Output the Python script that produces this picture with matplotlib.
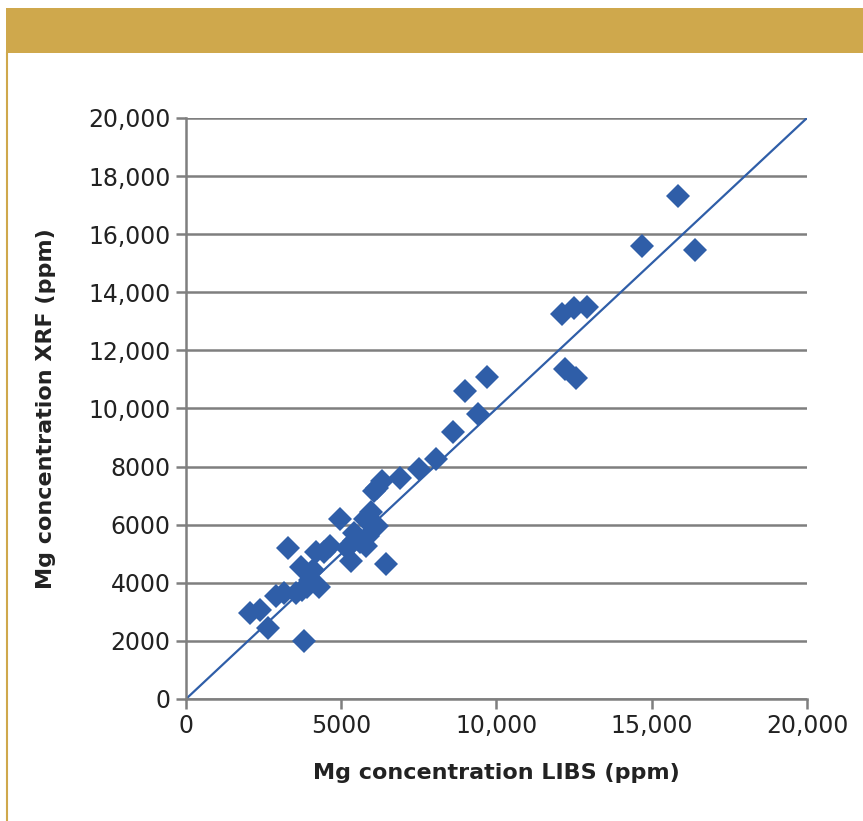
import numpy as np
import matplotlib
matplotlib.use("Agg")
from matplotlib import pyplot as plt
from matplotlib.patches import Rectangle
from matplotlib.lines import Line2D
from matplotlib.ticker import FuncFormatter

# Mg by LIBS vs Mg by XRF, ppm
libs = [2050, 2400, 2650, 2900, 3150, 3300, 3550, 3750, 3800, 3700,
        3900, 4000, 4100, 4300, 4200, 4450, 4650, 4950, 5200, 5300,
        5400, 5400, 5600, 5750, 5800, 5850, 5950, 6050, 6150, 6150,
        6300, 6450, 6900, 7500, 8050, 8600, 9400, 9000, 9700, 12100,
        12500, 12900, 12200, 12550, 14700, 15850, 16400]
xrf = [2950, 3050, 2450, 3550, 3650, 5200, 3650, 3750, 2000, 4550,
       3850, 4100, 4450, 3850, 5050, 5050, 5250, 6200, 5200, 4750,
       5700, 5450, 5400, 6200, 5250, 5600, 6450, 7150, 5950, 7250,
       7500, 4650, 7600, 7900, 8250, 9200, 9800, 10600, 11100, 13250,
       13450, 13500, 11350, 11050, 15600, 17300, 15450]
ticks = [0, 5000, 10000, 15000, 20000]
yticks = [0, 2000, 4000, 6000, 8000, 10000, 12000, 14000, 16000, 18000, 20000]

blue = "#2f5ea8"
gold = "#cfa84c"
grey = "#7f7f7f"

plt.rcParams['font.family'] = ['Liberation Sans Narrow', 'DejaVu Sans']

fig = plt.figure(figsize=(8.63, 8.21), dpi=100)
fig.patches.append(Rectangle((0.007, 0.9354), 0.993, 0.0546, transform=fig.transFigure,
                             facecolor=gold, edgecolor="none"))
fig.lines.append(Line2D([0.008, 0.008], [0.0, 0.9354], transform=fig.transFigure,
                        color=gold, linewidth=1.5))

ax = fig.add_axes([0.2155, 0.1486, 0.7196, 0.7077])
ax.set_xlim(0, 20000)
ax.set_ylim(0, 20000)

ax.plot([0, 20000], [0, 20000], color=blue, linewidth=1.6, zorder=2)
ax.plot(libs, xrf, linestyle="none", marker="D", markersize=12.5,
        color=blue, markeredgewidth=0, zorder=3)

def fmt(v, pos):
    v = int(v)
    return f"{v:,}" if v >= 10000 else str(v)

ax.set_xticks(ticks)
ax.set_yticks(yticks)
ax.xaxis.set_major_formatter(FuncFormatter(fmt))
ax.yaxis.set_major_formatter(FuncFormatter(fmt))
ax.tick_params(axis="both", colors=grey, labelcolor="#222222", labelsize=17,
               length=7, width=1.8, direction="out")
ax.tick_params(axis="y", pad=4)

ax.grid(axis="y", color=grey, linewidth=1.8, zorder=1)
ax.set_axisbelow(True)
for s in ["top", "right"]:
    ax.spines[s].set_visible(False)
for s in ["left", "bottom"]:
    ax.spines[s].set_color(grey)
    ax.spines[s].set_linewidth(1.8)

ax.set_xlabel("Mg concentration LIBS (ppm)", fontsize=16, fontweight="bold",
              color="#222222", labelpad=18)
ax.set_ylabel("Mg concentration XRF (ppm)", fontsize=16, fontweight="bold",
              color="#222222", labelpad=23)

plt.savefig("out.png", dpi=100)
